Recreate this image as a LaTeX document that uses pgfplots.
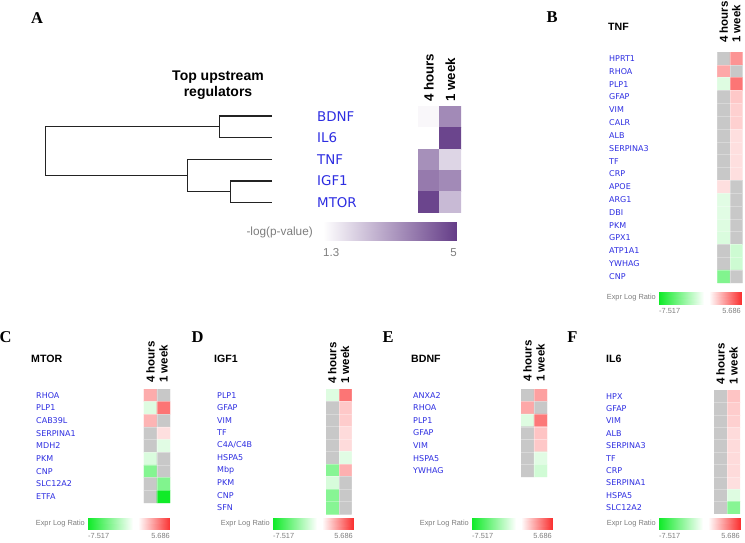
\documentclass[border=0pt]{standalone}
\usepackage{fontspec}
\setmainfont{Liberation Sans}
\newfontfamily\dejavu{DejaVu Sans}
\newfontfamily\tnr{Liberation Serif}
\usepackage{pgfplots}
\pgfplotsset{compat=1.18}
\usepackage{pgfplotstable}
\definecolor{geneblue}{RGB}{45,45,225}
\definecolor{cbtext}{RGB}{125,125,125}
\definecolor{dendro}{RGB}{35,35,35}
\newcommand{\fs}[1]{\fontsize{#1}{#1}\selectfont}

\pgfplotstableread{
x y c
0 0 1.45
1 0 3.5
0 1 1.3
1 1 4.8
0 2 3.4
1 2 2.1
0 3 3.8
1 3 3.5
0 4 4.8
1 4 2.6
}\dataA

\pgfplotstableread{
x y c
0 0 -9
1 0 3.2
0 1 2.7
1 1 -9
0 2 -1.3
1 2 4.0
0 3 -9
1 3 1.9
0 4 -9
1 4 1.7
0 5 -9
1 5 1.7
0 6 -9
1 6 1.3
0 7 -9
1 7 1.3
0 8 -9
1 8 1.3
0 9 -9
1 9 1.3
0 10 1.3
1 10 -9
0 11 -1.2
1 11 -9
0 12 -1.2
1 12 -9
0 13 -1.3
1 13 -9
0 14 -1.4
1 14 -9
0 15 -9
1 15 -1.8
0 16 -9
1 16 -1.8
0 17 -4.1
1 17 -9
}\dataB

\pgfplotstableread{
x y c
0 0 2.6
1 0 -9
0 1 -1.3
1 1 4.0
0 2 2.4
1 2 -9
0 3 -9
1 3 1.3
0 4 -9
1 4 -1.2
0 5 -1.4
1 5 -9
0 6 -4.0
1 6 -9
0 7 -9
1 7 -4.1
0 8 -9
1 8 -7.5
}\dataC

\pgfplotstableread{
x y c
0 0 -1.3
1 0 4.0
0 1 -9
1 1 1.9
0 2 -9
1 2 1.8
0 3 -9
1 3 1.4
0 4 -9
1 4 1.4
0 5 -9
1 5 -1.2
0 6 -3.9
1 6 2.5
0 7 -1.5
1 7 -9
0 8 -3.9
1 8 -9
0 9 -3.9
1 9 -9
}\dataD

\pgfplotstableread{
x y c
0 0 -9
1 0 2.9
0 1 2.7
1 1 -9
0 2 -1.3
1 2 3.9
0 3 -9
1 3 2.0
0 4 -9
1 4 1.9
0 5 -9
1 5 -1.2
0 6 -9
1 6 -1.7
}\dataE

\pgfplotstableread{
x y c
0 0 -9
1 0 2.0
0 1 -9
1 1 1.8
0 2 -9
1 2 1.7
0 3 -9
1 3 1.4
0 4 -9
1 4 1.4
0 5 -9
1 5 1.4
0 6 -9
1 6 1.4
0 7 -9
1 7 1.3
0 8 -9
1 8 -1.3
0 9 -9
1 9 -3.9
}\dataF

\pgfplotsset{
 colormap={gwr}{rgb255(0)=(15,235,40) rgb255(7.217)=(255,255,255) rgb255(8.017)=(255,255,255) rgb255(13.203)=(250,50,50)},
 colormap={hmap}{rgb255(0)=(200,200,200) rgb255(1.4)=(200,200,200) rgb255(1.483)=(15,235,40) rgb255(8.7)=(255,255,255) rgb255(9.5)=(255,255,255) rgb255(14.686)=(250,50,50)},
 colormap={purp}{rgb255(0)=(255,255,255) rgb255(1)=(100,60,135)},
 hm/.style={scale only axis, anchor=north west, enlargelimits=false, y dir=reverse,
   xmin=-0.5, xmax=1.5, axis line style={draw=none}, tick style={draw=none},
   xtick={0,1}, xticklabels={4 hours,1 week}, xticklabel pos=upper,
   xticklabel style={rotate=90, anchor=west, inner sep=0pt, font=\bfseries\fs{11.5}},
   yticklabel style={anchor=west, inner sep=0pt, font=\dejavu\fs{8}, text=geneblue},
   colormap name=hmap, point meta min=-9, point meta max=5.686},
 hmgrid/.style={axis on top, minor xtick={0.5}, minor ytick={0.5,1.5,...,20.5},
   minor grid style={draw=white, draw opacity=0.3, line width=0.4pt}, grid=minor},
 cb/.style={scale only axis, anchor=north west, hide axis, view={0}{90}, ymin=0, ymax=1, clip=false,
   colormap name=gwr, point meta min=-7.517, point meta max=5.686, xmin=-7.517, xmax=5.686},
}
\newcommand{\cbplot}{\addplot3[surf, shader=interp, point meta=x, mesh/cols=4] coordinates {(-7.517,0,0) (-0.3,0,0) (0.5,0,0) (5.686,0,0) (-7.517,1,0) (-0.3,1,0) (0.5,1,0) (5.686,1,0)};}
\newcommand{\cblabels}[4]{%
  \node[anchor=east, inner sep=0pt, text=cbtext, font=\fs{7.4}] at (#1pt-3pt,-#4pt-#3pt/2) {Expr Log Ratio};
  \node[anchor=north west, inner sep=0pt, text=cbtext, font=\fs{7.4}] at (#1pt,-#4pt-#3pt-4pt) {-7.517};
  \node[anchor=north east, inner sep=0pt, text=cbtext, font=\fs{7.4}] at (#2pt,-#4pt-#3pt-4pt) {5.686};
}

\begin{document}
\begin{tikzpicture}
\useasboundingbox (0,0) rectangle (745pt,-543pt);

% ---------- Panel A ----------
\begin{axis}[at={(0pt,0pt)}, anchor=north west, scale only axis, width=745pt, height=543pt,
  xmin=0, xmax=745, ymin=0, ymax=543, y dir=reverse, hide axis, clip=false]
\addplot[dendro, line width=1.3pt] coordinates {(272,116) (219.3,116) (219.3,137.7) (272,137.7)};
\addplot[dendro, line width=1.3pt] coordinates {(219.3,126.8) (45.7,126.8) (45.7,175.3) (187.7,175.3)};
\addplot[dendro, line width=1.3pt] coordinates {(272,159.3) (187.7,159.3) (187.7,191.8) (230.7,191.8)};
\addplot[dendro, line width=1.3pt] coordinates {(272,181) (230.7,181) (230.7,202.7) (272,202.7)};
\end{axis}

\node[font=\tnr\bfseries\fs{16.5}] at (37pt,-18pt) {A};
\node[font=\bfseries\fontsize{14}{16.5}\selectfont, align=center] at (218pt,-85pt) {Top upstream\\regulators};

\begin{axis}[hm, at={(418pt,-106pt)}, width=43pt, height=107pt, ymin=-0.5, ymax=4.5,
  ytick={0,...,4}, yticklabels={BDNF,IL6,TNF,IGF1,MTOR},
  yticklabel style={xshift=-101pt, font=\dejavu\fs{13.4}},
  xticklabel style={font=\bfseries\fs{13.3}}, xticklabel shift=4pt,
  colormap name=purp, point meta min=1.3, point meta max=5]
\addplot[matrix plot*, mesh/cols=2, point meta=explicit] table[meta=c] {\dataA};
\end{axis}

\begin{axis}[cb, at={(323pt,-222pt)}, width=134pt, height=18pt, colormap name=purp,
  point meta min=1.3, point meta max=5, xmin=1.3, xmax=5]
\addplot3[surf, shader=interp, point meta=x, mesh/cols=2] coordinates {(1.3,0,0) (5,0,0) (1.3,1,0) (5,1,0)};
\end{axis}
\node[anchor=east, inner sep=0pt, text=cbtext, font=\fs{11.8}] at (313pt,-232pt) {-log(p-value)};
\node[anchor=west, inner sep=0pt, text=cbtext, font=\fs{11.5}] at (323pt,-253pt) {1.3};
\node[anchor=east, inner sep=0pt, text=cbtext, font=\fs{11.5}] at (457pt,-253pt) {5};

% ---------- Panel B ----------
\node[font=\tnr\bfseries\fs{16.5}] at (552pt,-17pt) {B};
\node[anchor=west, inner sep=0pt, font=\bfseries\fs{10.6}] at (608pt,-27pt) {TNF};
\begin{axis}[hm, hmgrid, at={(717.3pt,-52pt)}, width=25.4pt, height=231pt, ymin=-0.5, ymax=17.5,
  ytick={0,...,17}, yticklabels={HPRT1,RHOA,PLP1,GFAP,VIM,CALR,ALB,SERPINA3,TF,CRP,APOE,ARG1,DBI,PKM,GPX1,ATP1A1,YWHAG,CNP},
  yticklabel style={xshift=-108.3pt}, xticklabel shift=9pt]
\addplot[matrix plot*, mesh/cols=2, point meta=explicit] table[meta=c] {\dataB};
\end{axis}
\begin{axis}[cb, at={(659pt,-292pt)}, width=82pt, height=12pt]
\cbplot
\end{axis}
\cblabels{659}{741}{12}{292}

% ---------- Panel C ----------
\node[font=\tnr\bfseries\fs{16.5}] at (5.5pt,-337pt) {C};
\node[anchor=west, inner sep=0pt, font=\bfseries\fs{10.6}] at (31pt,-359pt) {MTOR};
\begin{axis}[hm, hmgrid, at={(144pt,-389pt)}, width=26pt, height=114pt, ymin=-0.5, ymax=8.5,
  ytick={0,...,8}, yticklabels={RHOA,PLP1,CAB39L,SERPINA1,MDH2,PKM,CNP,SLC12A2,ETFA},
  yticklabel style={xshift=-108pt}, xticklabel shift=6pt]
\addplot[matrix plot*, mesh/cols=2, point meta=explicit] table[meta=c] {\dataC};
\end{axis}
\begin{axis}[cb, at={(88pt,-518pt)}, width=82pt, height=11pt]
\cbplot
\end{axis}
\cblabels{88}{170}{11}{518}

% ---------- Panel D ----------
\node[font=\tnr\bfseries\fs{16.5}] at (197.5pt,-337pt) {D};
\node[anchor=west, inner sep=0pt, font=\bfseries\fs{10.6}] at (214pt,-359pt) {IGF1};
\begin{axis}[hm, hmgrid, at={(326pt,-389pt)}, width=25.5pt, height=125pt, ymin=-0.5, ymax=9.5,
  ytick={0,...,9}, yticklabels={PLP1,GFAP,VIM,TF,C4A/C4B,HSPA5,Mbp,PKM,CNP,SFN},
  yticklabel style={xshift=-109pt}, xticklabel shift=5pt]
\addplot[matrix plot*, mesh/cols=2, point meta=explicit] table[meta=c] {\dataD};
\end{axis}
\begin{axis}[cb, at={(273pt,-518pt)}, width=80pt, height=11pt]
\cbplot
\end{axis}
\cblabels{273}{353}{11}{518}

% ---------- Panel E ----------
\node[font=\tnr\bfseries\fs{16.5}] at (388pt,-337pt) {E};
\node[anchor=west, inner sep=0pt, font=\bfseries\fs{10.6}] at (411pt,-359pt) {BDNF};
\begin{axis}[hm, hmgrid, at={(521pt,-389pt)}, width=26pt, height=88pt, ymin=-0.5, ymax=6.5,
  ytick={0,...,6}, yticklabels={ANXA2,RHOA,PLP1,GFAP,VIM,HSPA5,YWHAG},
  yticklabel style={xshift=-108pt}, xticklabel shift=7pt]
\addplot[matrix plot*, mesh/cols=2, point meta=explicit] table[meta=c] {\dataE};
\end{axis}
\begin{axis}[cb, at={(472pt,-518pt)}, width=80pt, height=11pt]
\cbplot
\end{axis}
\cblabels{472}{552}{11}{518}

% ---------- Panel F ----------
\node[font=\tnr\bfseries\fs{16.5}] at (572.5pt,-337pt) {F};
\node[anchor=west, inner sep=0pt, font=\bfseries\fs{10.6}] at (606pt,-359pt) {IL6};
\begin{axis}[hm, hmgrid, at={(714pt,-390pt)}, width=26pt, height=124pt, ymin=-0.5, ymax=9.5,
  ytick={0,...,9}, yticklabels={HPX,GFAP,VIM,ALB,SERPINA3,TF,CRP,SERPINA1,HSPA5,SLC12A2},
  yticklabel style={xshift=-108pt}, xticklabel shift=5pt]
\addplot[matrix plot*, mesh/cols=2, point meta=explicit] table[meta=c] {\dataF};
\end{axis}
\begin{axis}[cb, at={(659pt,-518pt)}, width=81pt, height=11pt]
\cbplot
\end{axis}
\cblabels{659}{740}{11}{518}

\end{tikzpicture}
\end{document}
